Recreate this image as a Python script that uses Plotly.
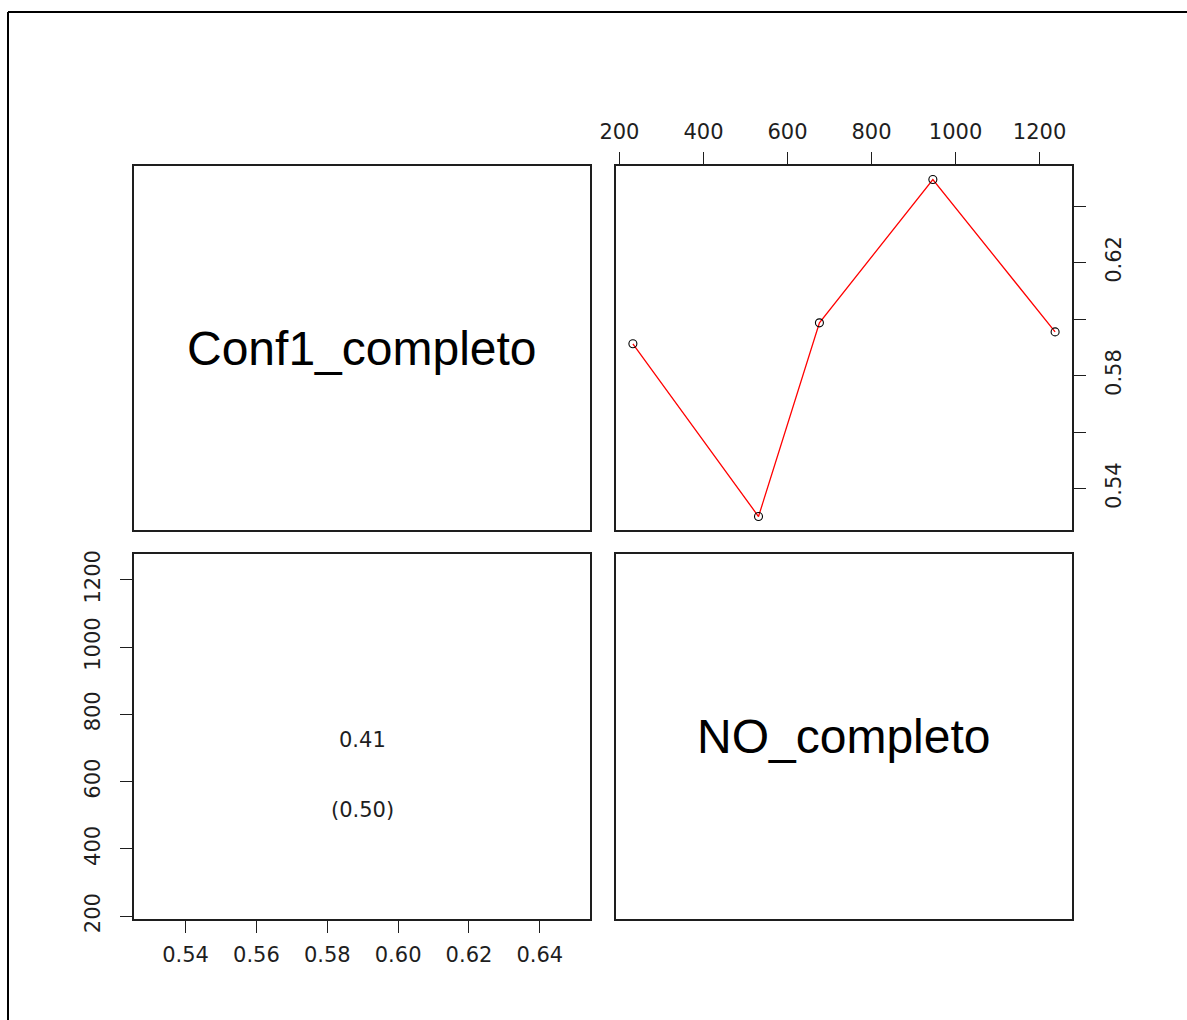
import plotly.graph_objects as go

# Variables of the scatterplot matrix
var_names = ["Conf1_completo", "NO_completo"]
no_completo = [232, 531, 676, 946, 1237]
conf1_completo = [0.5913, 0.5302, 0.5987, 0.6494, 0.5955]

# Tick positions and labels
no_ticks = [200, 400, 600, 800, 1000, 1200]
conf_ticks = [0.54, 0.56, 0.58, 0.60, 0.62, 0.64]
conf_labels_right = ["0.54", "", "0.58", "", "0.62", ""]
conf_labels_bottom = ["0.54", "0.56", "0.58", "0.60", "0.62", "0.64"]

# Correlation and p-value printed in the lower panel
cor_text = ["0.41", "(0.50)"]

W, H = 1187, 1020


def padded(values, frac=0.04):
    lo, hi = min(values), max(values)
    d = frac * (hi - lo)
    return [lo - d, hi + d]


def px_x(p):
    return p / W


def px_y(p):
    return 1 - p / H


col_left = [px_x(134), px_x(590)]
col_right = [px_x(616), px_x(1072)]
row_top = [px_y(530), px_y(166)]
row_bottom = [px_y(919), px_y(554)]

LINE = "#1e1e1e"
TICK_FONT = dict(family="DejaVu Sans", size=21, color="#1e1e1e")
LABEL_FONT = dict(family="Liberation Sans", size=48, color="#000000")
TEXT_FONT = dict(family="DejaVu Sans", size=21, color="#1e1e1e")

frame = dict(showline=True, linecolor=LINE, linewidth=1.5, mirror=True,
             showgrid=False, zeroline=False, automargin=False, fixedrange=True)
blank = dict(frame, showticklabels=False, ticks="", range=[0, 1])
ticked = dict(frame, ticks="outside", ticklen=12, tickwidth=1.2, tickcolor=LINE,
              tickfont=TICK_FONT)

fig = go.Figure()

# Empty traces so every panel of the matrix gets its frame drawn
for xa, ya in [("x", "y"), ("x3", "y3"), ("x4", "y4")]:
    fig.add_trace(go.Scatter(x=[None], y=[None], xaxis=xa, yaxis=ya,
                             mode="markers", showlegend=False, hoverinfo="skip"))

# Upper-right panel: NO_completo (x) vs Conf1_completo (y)
fig.add_trace(go.Scatter(
    x=no_completo, y=conf1_completo, xaxis="x2", yaxis="y2",
    mode="lines", line=dict(color="#ff0000", width=1.3), showlegend=False,
    hoverinfo="skip"))
fig.add_trace(go.Scatter(
    x=no_completo, y=conf1_completo, xaxis="x2", yaxis="y2",
    mode="markers", marker=dict(symbol="circle-open", size=8, color="#000000",
                                line=dict(width=1.1, color="#000000")),
    showlegend=False))

fig.update_layout(
    width=W, height=H,
    margin=dict(l=0, r=0, t=0, b=0, pad=0),
    paper_bgcolor="white", plot_bgcolor="white",
    showlegend=False,
    # upper-left: diagonal label panel
    xaxis=dict(blank, domain=col_left, anchor="y"),
    yaxis=dict(blank, domain=row_top, anchor="x"),
    # upper-right: scatter panel with axes on top and right
    xaxis2=dict(ticked, domain=col_right, anchor="y2", side="top",
                range=padded(no_completo), tickvals=no_ticks,
                ticktext=[str(v) for v in no_ticks], ticklabelstandoff=5),
    yaxis2=dict(ticked, domain=row_top, anchor="x2", side="right",
                range=padded(conf1_completo), tickvals=conf_ticks,
                ticktext=conf_labels_right, tickangle=-90, ticklabelstandoff=10),
    # lower-left: correlation panel with axes on bottom and left
    xaxis3=dict(ticked, domain=col_left, anchor="y3", side="bottom",
                range=padded(conf1_completo), tickvals=conf_ticks,
                ticktext=conf_labels_bottom, ticklabelstandoff=4),
    yaxis3=dict(ticked, domain=row_bottom, anchor="x3", side="left",
                range=padded(no_completo), tickvals=no_ticks,
                ticktext=[str(v) for v in no_ticks], tickangle=-90,
                ticklabelstandoff=12),
    # lower-right: diagonal label panel
    xaxis4=dict(blank, domain=col_right, anchor="y4"),
    yaxis4=dict(blank, domain=row_bottom, anchor="x4"),
)

annotations = [
    dict(text=var_names[0], xref="x domain", yref="y domain", x=0.5, y=0.5,
         showarrow=False, font=LABEL_FONT, xanchor="center", yanchor="middle"),
    dict(text=var_names[1], xref="x4 domain", yref="y4 domain", x=0.5, y=0.5,
         showarrow=False, font=LABEL_FONT, xanchor="center", yanchor="middle"),
    dict(text=cor_text[0], xref="x3 domain", yref="y3 domain", x=0.5, y=0.49,
         showarrow=False, font=TEXT_FONT, xanchor="center", yanchor="middle"),
    dict(text=cor_text[1], xref="x3 domain", yref="y3 domain", x=0.5, y=0.30,
         showarrow=False, font=TEXT_FONT, xanchor="center", yanchor="middle"),
]
fig.update_layout(annotations=annotations)

# Outer device frame (top and left edges)
fig.add_shape(type="line", xref="paper", yref="paper",
              x0=px_x(8), y0=px_y(12), x1=1.0, y1=px_y(12),
              line=dict(color="#000000", width=2))
fig.add_shape(type="line", xref="paper", yref="paper",
              x0=px_x(8), y0=px_y(12), x1=px_x(8), y1=0.0,
              line=dict(color="#000000", width=2))

fig.write_html("out.html")
